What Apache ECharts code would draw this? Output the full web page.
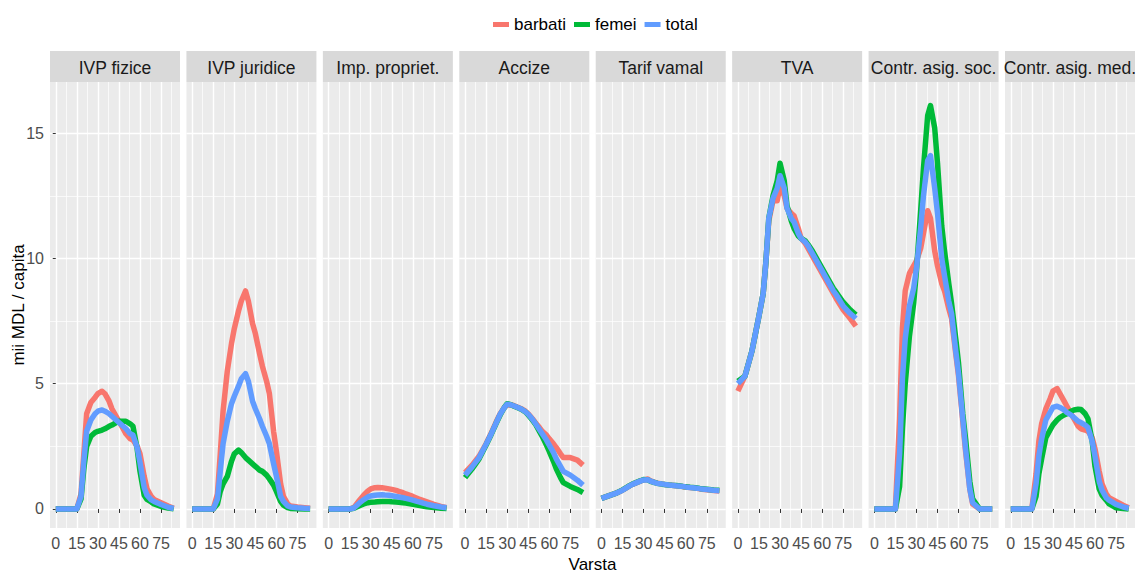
<!DOCTYPE html>
<html><head><meta charset="utf-8">
<script src="https://cdn.jsdelivr.net/npm/echarts@6/dist/echarts.min.js"></script>
<style>html,body{margin:0;padding:0;background:#fff}#chart{width:1136px;height:574px}</style>
</head><body><div id="chart"></div>
<script>
// ---------- data ----------
const panels = ['IVP fizice','IVP juridice','Imp. propriet.','Accize','Tarif vamal','TVA','Contr. asig. soc.','Contr. asig. med.'];
const seriesNames = ['barbati','femei','total'];
const ages = [0,5,10,15,18,20,22,25,28,30,33,35,38,40,43,45,48,50,53,55,58,60,63,65,68,70,75,80,84];
const xTicks = [0,15,30,45,60,75];
const xMinor = [7.5,22.5,37.5,52.5,67.5,82.5];
const yTicks = [0,5,10,15];
const yMinor = [2.5,7.5,12.5];

const ivpFiziceBarbati = [0,0,0,0,0.6,2.2,3.8,4.25,4.45,4.6,4.7,4.6,4.3,4.0,3.7,3.5,3.2,3.0,2.8,2.75,2.5,2.2,1.3,0.8,0.5,0.38,0.25,0.12,0.03];
const ivpFiziceFemei   = [0,0,0,0,0.4,1.6,2.5,2.9,3.05,3.1,3.15,3.2,3.3,3.35,3.45,3.5,3.5,3.5,3.4,3.3,2.4,1.5,0.55,0.38,0.28,0.2,0.1,0.04,0.01];
const ivpFiziceTotal   = [0,0,0,0,0.5,1.9,3.1,3.55,3.8,3.9,3.95,3.9,3.8,3.7,3.55,3.45,3.3,3.2,3.0,2.95,2.45,1.85,0.85,0.55,0.36,0.3,0.18,0.07,0.02];

const ivpJuridiceBarbati = [0,0,0,0,0.6,2.2,3.9,5.5,6.6,7.2,7.9,8.3,8.7,8.3,7.4,7.0,6.2,5.7,5.1,4.6,3.1,2.3,1.0,0.5,0.2,0.12,0.08,0.05,0.03];
const ivpJuridiceFemei   = [0,0,0,0,0.2,0.7,1.0,1.3,1.9,2.2,2.35,2.25,2.05,1.95,1.8,1.7,1.55,1.5,1.35,1.2,0.95,0.7,0.3,0.15,0.05,0.02,0.01,0,0];
const ivpJuridiceTotal   = [0,0,0,0,0.4,1.5,2.6,3.5,4.2,4.5,4.9,5.2,5.4,5.1,4.3,4.0,3.6,3.3,2.9,2.6,1.8,1.3,0.5,0.3,0.12,0.08,0.05,0.03,0.02];

const impProprietBarbati = [0,0,0,0,0.05,0.2,0.35,0.55,0.72,0.8,0.85,0.86,0.85,0.83,0.8,0.78,0.74,0.7,0.65,0.6,0.54,0.5,0.43,0.38,0.32,0.28,0.18,0.1,0.05];
const impProprietFemei   = [0,0,0,0,0.03,0.08,0.13,0.2,0.25,0.27,0.28,0.29,0.3,0.3,0.3,0.29,0.28,0.27,0.25,0.24,0.21,0.19,0.16,0.14,0.11,0.09,0.06,0.03,0.02];
const impProprietTotal   = [0,0,0,0,0.04,0.14,0.24,0.37,0.48,0.52,0.55,0.56,0.57,0.56,0.55,0.53,0.5,0.48,0.45,0.42,0.38,0.35,0.3,0.27,0.22,0.19,0.13,0.08,0.05];

const accizeBarbati = [1.45,1.75,2.1,2.6,2.95,3.2,3.45,3.8,4.05,4.15,4.15,4.12,4.05,4.0,3.9,3.8,3.6,3.45,3.25,3.1,2.95,2.8,2.6,2.45,2.2,2.05,2.05,1.95,1.75];
const accizeFemei   = [1.25,1.6,2.0,2.55,2.9,3.15,3.4,3.75,4.05,4.2,4.15,4.1,4.03,3.98,3.87,3.75,3.55,3.4,3.1,2.9,2.55,2.3,1.9,1.6,1.25,1.05,0.9,0.78,0.65];
const accizeTotal   = [1.35,1.68,2.05,2.58,2.92,3.17,3.42,3.78,4.05,4.18,4.15,4.11,4.04,3.99,3.88,3.78,3.58,3.42,3.17,3.0,2.75,2.55,2.25,2.0,1.7,1.5,1.35,1.15,0.95];

const tarifVamalBarbati = [0.42,0.52,0.62,0.75,0.85,0.92,0.98,1.05,1.12,1.15,1.2,1.12,1.06,1.03,1.0,0.98,0.96,0.95,0.93,0.92,0.89,0.88,0.86,0.85,0.82,0.8,0.77,0.74,0.72];
const tarifVamalFemei   = [0.42,0.52,0.62,0.76,0.86,0.93,0.99,1.06,1.13,1.18,1.16,1.1,1.05,1.02,0.99,0.98,0.96,0.95,0.94,0.93,0.9,0.89,0.87,0.86,0.84,0.82,0.79,0.76,0.75];
const tarifVamalTotal   = [0.42,0.52,0.62,0.75,0.85,0.92,0.98,1.05,1.12,1.16,1.17,1.11,1.05,1.02,1.0,0.98,0.96,0.95,0.93,0.92,0.9,0.88,0.86,0.85,0.83,0.81,0.78,0.75,0.73];

const tvaBarbati = [4.7,5.3,6.3,7.7,8.6,9.9,11.5,12.3,12.3,12.9,12.5,12.0,11.8,11.7,11.2,10.8,10.6,10.4,10.1,9.9,9.6,9.4,9.1,8.9,8.6,8.4,7.95,7.6,7.3];
const tvaFemei   = [5.1,5.3,6.3,7.7,8.6,9.9,11.6,12.5,13.1,13.8,13.1,12.1,11.5,11.2,10.9,10.8,10.7,10.55,10.3,10.1,9.8,9.6,9.3,9.1,8.8,8.65,8.25,7.95,7.75];
const tvaTotal   = [5.0,5.3,6.3,7.7,8.6,9.9,11.6,12.4,12.8,13.3,12.8,12.0,11.6,11.45,11.0,10.8,10.65,10.5,10.2,10.0,9.7,9.5,9.2,9.0,8.7,8.55,8.1,7.8,7.6];

const asigSocBarbati = [0,0,0,0,3.6,7.2,8.7,9.4,9.7,9.9,10.4,11.0,11.9,11.6,10.3,9.7,9.0,8.7,8.0,7.6,6.2,5.3,3.5,2.3,0.8,0.2,0,0,0];
const asigSocFemei   = [0,0,0,0,0.9,3.2,5.0,6.9,8.2,9.5,11.9,13.6,15.7,16.1,15.2,13.8,11.3,10.3,9.0,8.2,6.8,5.8,3.8,2.8,1.1,0.4,0,0,0];
const asigSocTotal   = [0,0,0,0,2.2,5.2,6.8,8.1,8.8,9.6,11.2,12.5,13.9,14.1,12.8,11.8,10.0,9.3,8.3,7.8,6.3,5.4,3.6,2.4,0.8,0.25,0,0,0];

const asigMedBarbati = [0,0,0,0,1.4,2.7,3.4,4.0,4.4,4.7,4.8,4.6,4.3,4.1,3.8,3.6,3.3,3.2,3.15,3.1,2.85,2.4,1.5,1.0,0.6,0.45,0.3,0.15,0.05];
const asigMedFemei   = [0,0,0,0,0.5,1.4,2.0,2.85,3.15,3.35,3.55,3.65,3.75,3.8,3.9,3.95,3.98,3.97,3.8,3.6,2.7,1.7,0.8,0.55,0.35,0.2,0.05,0.02,0];
const asigMedTotal   = [0,0,0,0,1.0,2.1,2.8,3.55,3.85,4.05,4.1,4.05,3.95,3.85,3.75,3.65,3.5,3.45,3.35,3.25,2.7,2.1,1.1,0.75,0.45,0.35,0.18,0.08,0.03];

const panelSeries = [
  [ivpFiziceBarbati, ivpFiziceFemei, ivpFiziceTotal],
  [ivpJuridiceBarbati, ivpJuridiceFemei, ivpJuridiceTotal],
  [impProprietBarbati, impProprietFemei, impProprietTotal],
  [accizeBarbati, accizeFemei, accizeTotal],
  [tarifVamalBarbati, tarifVamalFemei, tarifVamalTotal],
  [tvaBarbati, tvaFemei, tvaTotal],
  [asigSocBarbati, asigSocFemei, asigSocTotal],
  [asigMedBarbati, asigMedFemei, asigMedTotal]
];

// ---------- layout / style ----------
const FONT = '"Liberation Sans", Arial, sans-serif';
const colors = ['#F8766D','#00BA38','#619CFF'];
const PANEL_LEFT0 = 50, PANEL_STEP = 136.43, PANEL_W = 130, PANEL_TOP = 82, PANEL_H = 446;
const STRIP_TOP = 51, STRIP_H = 31;
const X_MIN = -4.1, X_MAX = 88.5, Y_MIN = -0.76, Y_MAX = 17.04;

const grids = [], xAxes = [], yAxes = [], series = [], graphics = [];
panels.forEach((name, i) => {
  const left = PANEL_LEFT0 + i * PANEL_STEP;
  grids.push({left: left, top: PANEL_TOP, width: PANEL_W, height: PANEL_H,
    show: true, backgroundColor: '#EBEBEB', borderWidth: 0, containLabel: false});
  // major x
  xAxes.push({type: 'value', gridIndex: i, min: X_MIN, max: X_MAX, position: 'bottom',
    axisLine: {show: false},
    axisTick: {show: true, customValues: xTicks, length: 4, lineStyle: {color: '#333333', width: 1}},
    axisLabel: {show: true, customValues: xTicks, color: '#4D4D4D', fontSize: 16, fontFamily: FONT, margin: 7},
    splitLine: {show: true, lineStyle: {color: '#FFFFFF', width: 1.4}}});
  // minor x
  xAxes.push({type: 'value', gridIndex: i, min: X_MIN, max: X_MAX, position: 'bottom',
    axisLine: {show: false},
    axisTick: {show: false, customValues: xMinor},
    axisLabel: {show: false, customValues: xMinor},
    splitLine: {show: true, lineStyle: {color: '#FFFFFF', width: 0.7}}});
  // major y
  yAxes.push({type: 'value', gridIndex: i, min: Y_MIN, max: Y_MAX, position: 'left',
    axisLine: {show: false},
    axisTick: {show: i === 0, customValues: yTicks, length: 3, lineStyle: {color: '#333333', width: 1}},
    axisLabel: {show: i === 0, customValues: yTicks, color: '#4D4D4D', fontSize: 16, fontFamily: FONT, margin: 6},
    splitLine: {show: true, lineStyle: {color: '#FFFFFF', width: 1.4}}});
  // minor y
  yAxes.push({type: 'value', gridIndex: i, min: Y_MIN, max: Y_MAX, position: 'left',
    axisLine: {show: false},
    axisTick: {show: false, customValues: yMinor},
    axisLabel: {show: false, customValues: yMinor},
    splitLine: {show: true, lineStyle: {color: '#FFFFFF', width: 0.7}}});

  panelSeries[i].forEach((vals, s) => {
    series.push({
      type: 'line', name: seriesNames[s],
      xAxisIndex: 2 * i, yAxisIndex: 2 * i,
      data: ages.map((a, k) => [a, vals[k]]),
      symbol: 'none', showSymbol: false, smooth: false,
      lineStyle: {color: colors[s], width: 5.5, join: 'round', cap: 'butt'},
      itemStyle: {color: colors[s]},
      emphasis: {disabled: true}, silent: true, z: 3 + s
    });
  });

  // facet strip
  graphics.push({type: 'rect', left: left, top: STRIP_TOP, silent: true,
    shape: {width: PANEL_W, height: STRIP_H}, style: {fill: '#D9D9D9'}});
  graphics.push({type: 'text', x: left + PANEL_W / 2, y: STRIP_TOP + STRIP_H / 2 + 1, silent: true,
    style: {text: name, fill: '#1A1A1A', font: '17.5px ' + FONT, textAlign: 'center', textVerticalAlign: 'middle'}});
});

// axis titles
graphics.push({type: 'text', x: 592.5, y: 564, silent: true,
  style: {text: 'Varsta', fill: '#000000', font: '17px ' + FONT, textAlign: 'center', textVerticalAlign: 'middle'}});
graphics.push({type: 'text', x: 18, y: 305, rotation: Math.PI / 2, silent: true,
  style: {text: 'mii MDL / capita', fill: '#000000', font: '17px ' + FONT, textAlign: 'center', textVerticalAlign: 'middle'}});

const chart = echarts.init(document.getElementById('chart'), null, {renderer: 'svg'});
chart.setOption({
  animation: false,
  backgroundColor: '#FFFFFF',
  legend: {
    data: seriesNames, left: 488, top: 11, icon: 'rect', itemWidth: 16, itemHeight: 5, itemGap: 8,
    selectedMode: false,
    textStyle: {fontSize: 17, color: '#000000', fontFamily: FONT}
  },
  grid: grids, xAxis: xAxes, yAxis: yAxes, series: series, graphic: graphics
});
</script></body></html>
